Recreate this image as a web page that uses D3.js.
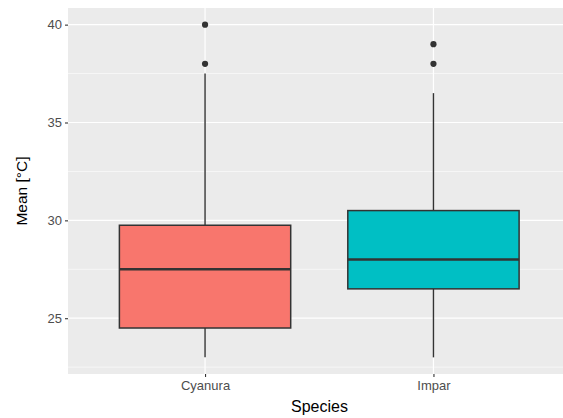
<!DOCTYPE html>
<html>
<head>
<meta charset="utf-8">
<script src="https://cdn.jsdelivr.net/npm/d3@7"></script>
<style>
  body { margin: 0; background: #fff; }
  svg { display: block; font-family: "Liberation Sans", Arial, sans-serif; }
</style>
</head>
<body>
<svg id="chart" width="563" height="418"></svg>
<script>
// Data
let species = ["Cyanura", "Impar"];
let lowerWhisker = [23, 23];
let q1 = [24.5, 26.5];
let median = [27.5, 28];
let q3 = [29.75, 30.5];
let upperWhisker = [37.5, 36.5];
let outliers = [[38, 40], [38, 39]];
let fills = ["#F8766D", "#00BFC4"];
let yTicks = [25, 30, 35, 40];
let yMinor = [22.5, 27.5, 32.5, 37.5];

// Layout
let panel = { left: 68, top: 8, right: 570.5, bottom: 374 };
let svg = d3.select("#chart");

// ggplot style scales: discrete x expanded by 0.6, continuous y by 5%
let x = d3.scaleLinear()
  .domain([0.4, species.length + 0.6])
  .range([panel.left, panel.right]);
let yLo = d3.min(lowerWhisker), yHi = d3.max(outliers.flat());
let pad = (yHi - yLo) * 0.05;
let y = d3.scaleLinear()
  .domain([yLo - pad, yHi + pad])
  .range([panel.bottom, panel.top]);

// Panel background
svg.append("rect")
  .attr("x", panel.left).attr("y", panel.top)
  .attr("width", panel.right - panel.left)
  .attr("height", panel.bottom - panel.top)
  .attr("fill", "#EBEBEB");

// Grid lines
let grid = svg.append("g");
grid.selectAll(".minor").data(yMinor).join("line")
  .attr("x1", panel.left).attr("x2", panel.right)
  .attr("y1", d => y(d)).attr("y2", d => y(d))
  .attr("stroke", "#fff").attr("stroke-width", 0.6);
grid.selectAll(".major").data(yTicks).join("line")
  .attr("x1", panel.left).attr("x2", panel.right)
  .attr("y1", d => y(d)).attr("y2", d => y(d))
  .attr("stroke", "#fff").attr("stroke-width", 1.2);
grid.selectAll(".vmajor").data(species).join("line")
  .attr("x1", (d, i) => x(i + 1)).attr("x2", (d, i) => x(i + 1))
  .attr("y1", panel.top).attr("y2", panel.bottom)
  .attr("stroke", "#fff").attr("stroke-width", 1.2);

// Boxes
let boxW = 0.75 * (x(2) - x(1));
let boxes = svg.append("g").selectAll("g").data(species).join("g");

boxes.append("line")
  .attr("x1", (d, i) => x(i + 1)).attr("x2", (d, i) => x(i + 1))
  .attr("y1", (d, i) => y(upperWhisker[i])).attr("y2", (d, i) => y(q3[i]))
  .attr("stroke", "#333").attr("stroke-width", 1.4);
boxes.append("line")
  .attr("x1", (d, i) => x(i + 1)).attr("x2", (d, i) => x(i + 1))
  .attr("y1", (d, i) => y(q1[i])).attr("y2", (d, i) => y(lowerWhisker[i]))
  .attr("stroke", "#333").attr("stroke-width", 1.4);
boxes.append("rect")
  .attr("x", (d, i) => x(i + 1) - boxW / 2)
  .attr("y", (d, i) => y(q3[i]))
  .attr("width", boxW)
  .attr("height", (d, i) => y(q1[i]) - y(q3[i]))
  .attr("fill", (d, i) => fills[i])
  .attr("stroke", "#333").attr("stroke-width", 1.5);
boxes.append("line")
  .attr("x1", (d, i) => x(i + 1) - boxW / 2).attr("x2", (d, i) => x(i + 1) + boxW / 2)
  .attr("y1", (d, i) => y(median[i])).attr("y2", (d, i) => y(median[i]))
  .attr("stroke", "#333").attr("stroke-width", 2.6);
boxes.each(function(d, i) {
  d3.select(this).selectAll("circle").data(outliers[i]).join("circle")
    .attr("cx", x(i + 1)).attr("cy", v => y(v))
    .attr("r", 3.1).attr("fill", "#333");
});

// Axes
let yAxis = svg.append("g")
  .attr("transform", `translate(${panel.left},0)`)
  .call(d3.axisLeft(y).tickValues(yTicks).tickSize(3).tickPadding(3));
let xAxis = svg.append("g")
  .attr("transform", `translate(0,${panel.bottom})`)
  .call(d3.axisBottom(x).tickValues(species.map((d, i) => i + 1))
    .tickFormat((d, i) => species[i]).tickSize(3).tickPadding(4));
[yAxis, xAxis].forEach(a => {
  a.select(".domain").remove();
  a.selectAll(".tick line").attr("stroke", "#333").attr("stroke-width", 1.1);
  a.selectAll(".tick text").attr("fill", "#4D4D4D")
    .style("font-size", "13px").style("font-family", "Liberation Sans, Arial, sans-serif");
});

// Axis titles
svg.append("text")
  .attr("x", (panel.left + 563) / 2 + 4).attr("y", 412)
  .attr("text-anchor", "middle")
  .style("font-size", "16px").attr("fill", "#000")
  .text("Species");
svg.append("text")
  .attr("transform", `translate(27,${(panel.top + panel.bottom) / 2}) rotate(-90)`)
  .attr("text-anchor", "middle")
  .style("font-size", "15.5px").attr("fill", "#000")
  .text("Mean [°C]");
</script>
</body>
</html>
